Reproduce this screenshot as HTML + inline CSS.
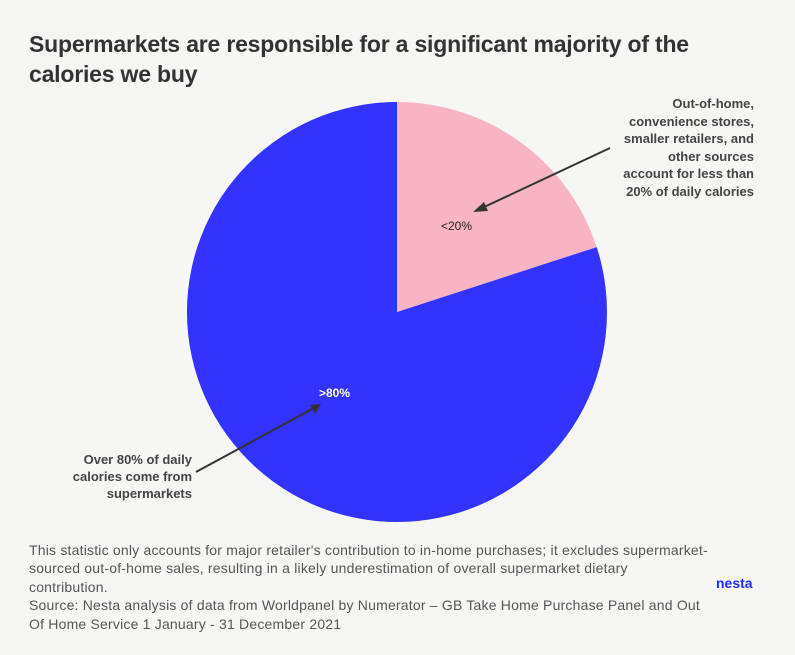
<!DOCTYPE html><html><head><style>
body{margin:0;background:#f6f7f5;width:795px;height:655px;overflow:hidden;font-family:"Liberation Sans",sans-serif;color:#333}
.t{position:absolute;left:29px;top:29px;font-size:23px;font-weight:bold;line-height:30px;letter-spacing:-0.2px;color:#333}
.r{position:absolute;right:41px;top:95px;width:200px;text-align:right;font-size:13px;font-weight:bold;line-height:17.6px;color:#444}
.l{position:absolute;right:603px;top:451px;width:200px;text-align:right;font-size:13px;font-weight:bold;line-height:17px;color:#444}
.f{position:absolute;left:29px;top:541px;width:720px;font-size:14px;letter-spacing:0.2px;line-height:18.4px;color:#555;white-space:nowrap}
.n{position:absolute;left:716px;top:575px;font-size:14px;font-weight:bold;color:#1c2df0}
</style></head><body>
<div class="t">Supermarkets are responsible for a significant majority of the<br>calories we buy</div>
<svg width="795" height="655" style="position:absolute;left:0;top:0">
<path d="M397,312 L397,102 A210,210 0 0 1 596.7,247.1 Z" fill="#f9b4c4"/>
<path d="M397,312 L596.7,247.1 A210,210 0 1 1 397,102 Z" fill="#3333ff"/>
<text x="441" y="230" font-size="12" font-family="Liberation Sans" fill="#222">&lt;20%</text>
<text x="319" y="397" font-size="12" font-weight="bold" font-family="Liberation Sans" fill="#fff">&gt;80%</text>
<line x1="610" y1="148" x2="482" y2="208" stroke="#333" stroke-width="2"/>
<polygon points="473,212 484,202 488,211" fill="#333"/>
<line x1="196" y1="472" x2="312" y2="409" stroke="#333" stroke-width="2"/>
<polygon points="321,404 310,405 315,414" fill="#333"/>
</svg>
<div class="r">Out-of-home,<br>convenience stores,<br>smaller retailers, and<br>other sources<br>account for less than<br>20% of daily calories</div>
<div class="l">Over 80% of daily<br>calories come from<br>supermarkets</div>
<div class="f">This statistic only accounts for major retailer's contribution to in-home purchases; it excludes supermarket-<br>sourced out-of-home sales, resulting in a likely underestimation of overall supermarket dietary<br>contribution.<br>Source: Nesta analysis of data from Worldpanel by Numerator – GB Take Home Purchase Panel and Out<br>Of Home Service 1 January - 31 December 2021</div>
<div class="n">nesta</div>
</body></html>
